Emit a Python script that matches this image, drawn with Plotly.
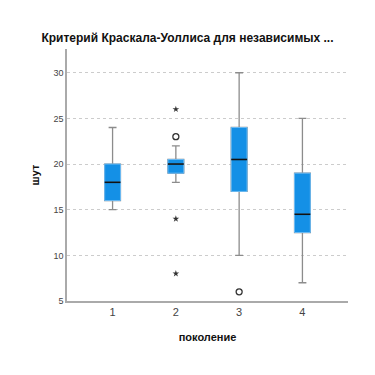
import plotly.graph_objects as go

groups = [1, 2, 3, 4]
q1 = [16, 19, 17, 12.5]
median = [18, 20, 20.5, 14.5]
q3 = [20, 20.5, 24, 19]
lower = [15, 18, 10, 7]
upper = [24, 22, 30, 25]

circle_x = [2, 3]
circle_y = [23, 6]
star_x = [2, 2, 2]
star_y = [26, 14, 8]

title = "Критерий Краскала-Уоллиса для независимых ..."
xlabel = "поколение"
ylabel = "шут"

BW = 0.25
fig = go.Figure()
# whiskers (gray)
fig.add_trace(go.Box(x=groups, q1=q1, median=median, q3=q3, lowerfence=lower, upperfence=upper,
                     width=BW, whiskerwidth=0.5, fillcolor="#1490e6",
                     line=dict(color="#8c8c8c", width=1.3), boxpoints=False, hoverinfo="skip"))
# box body (blue border)
fig.add_trace(go.Box(x=groups, q1=q1, median=median, q3=q3, lowerfence=q1, upperfence=q3,
                     width=BW, whiskerwidth=0, fillcolor="#1490e6",
                     line=dict(color="#6cbaf2", width=1), boxpoints=False, hoverinfo="skip"))
# medians
mx, my = [], []
for g, m in zip(groups, median):
    mx += [g - BW / 2, g + BW / 2, None]
    my += [m, m, None]
fig.add_trace(go.Scatter(x=mx, y=my, mode="lines", line=dict(color="#111111", width=1.6), hoverinfo="skip"))
fig.add_trace(go.Scatter(x=circle_x, y=circle_y, mode="markers",
                         marker=dict(symbol="circle-open", size=6, color="#333333", line=dict(width=1.3))))
fig.add_trace(go.Scatter(x=star_x, y=star_y, mode="markers",
                         marker=dict(symbol="star", size=5, color="#333333")))

fig.update_layout(
    width=375, height=375, showlegend=False, boxmode="overlay",
    paper_bgcolor="white", plot_bgcolor="white",
    margin=dict(l=67, r=27, t=49, b=74),
    font=dict(family="Liberation Sans, Arial, sans-serif", color="#222222"),
    title=dict(text="<b>" + title + "</b>", x=0.5, xanchor="center", y=1 - 38 / 375, yanchor="middle",
               font=dict(size=12, color="#111111")),
    xaxis=dict(range=[0.28, 4.72], tickvals=groups, ticktext=[str(g) for g in groups],
               showgrid=False, zeroline=False, showline=True, linecolor="#aaaaaa", linewidth=1.5,
               ticks="", tickfont=dict(size=11, color="#444444"), automargin=False,
               title=dict(text="<b>" + xlabel + "</b>", font=dict(size=11, color="#111111"), standoff=16)),
    yaxis=dict(range=[5, 32.6], tickvals=[5, 10, 15, 20, 25, 30], showgrid=True, gridcolor="#cccccc",
               griddash="dot", gridwidth=1, zeroline=False, showline=True, linecolor="#aaaaaa",
               linewidth=1.5, ticks="", tickfont=dict(size=9, color="#444444"), automargin=False,
               title=dict(text="<b>" + ylabel + "</b>", font=dict(size=11, color="#111111"), standoff=12)),
)
fig.write_html("out.html", config={"displayModeBar": False},
               post_script="document.body.style.margin='0';document.body.style.padding='0';")
